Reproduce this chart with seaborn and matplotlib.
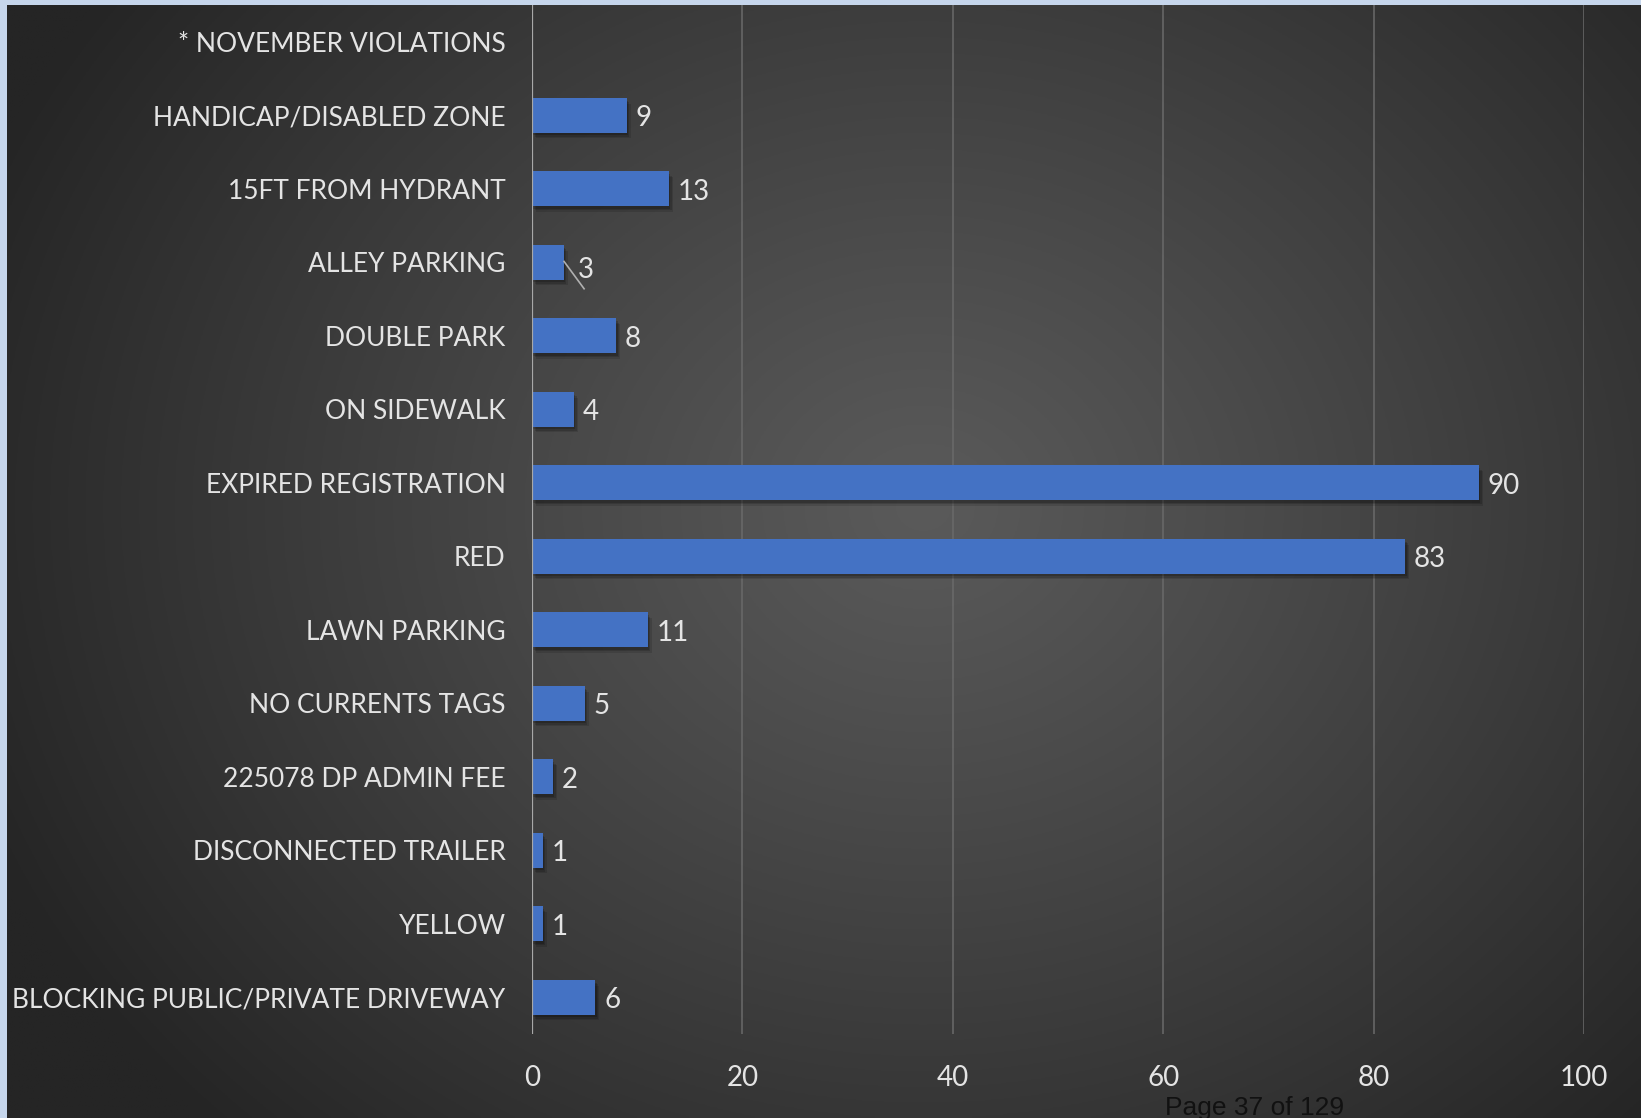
import numpy as np
import pandas as pd
import matplotlib
matplotlib.use("Agg")
import matplotlib.pyplot as plt
import matplotlib.patheffects as pe
import seaborn as sns

# Monthly parking-violation counts
categories = [
    "* NOVEMBER VIOLATIONS",
    "HANDICAP/DISABLED ZONE",
    "15FT FROM HYDRANT",
    "ALLEY PARKING",
    "DOUBLE PARK",
    "ON SIDEWALK",
    "EXPIRED REGISTRATION",
    "RED",
    "LAWN PARKING",
    "NO CURRENTS TAGS",
    "225078 DP ADMIN FEE",
    "DISCONNECTED TRAILER",
    "YELLOW",
    "BLOCKING PUBLIC/PRIVATE DRIVEWAY",
]
# the header row carries no count
counts = [None, 9, 13, 3, 8, 4, 90, 83, 11, 5, 2, 1, 1, 6]
x_ticks = [0, 20, 40, 60, 80, 100]
footer_text = "Page 37 of 129"

sns.set_theme(style="dark")
plt.rcParams["font.family"] = ["Lato", "DejaVu Sans"]

W, H, DPI = 1641, 1118, 100
fig = plt.figure(figsize=(W / DPI, H / DPI), dpi=DPI)
fig.patch.set_facecolor("#c6d6ec")

# dark panel with a soft radial highlight
bg = fig.add_axes([7 / W, 0, 1 - 7 / W, 1 - 5 / H])
bg.set_axis_off()
ny, nx = 400, 600
yy, xx = np.mgrid[0:ny, 0:nx]
cx, cy = 0.56 * nx, 0.45 * ny
r = np.sqrt(((xx - cx) / (0.62 * nx)) ** 2 + ((yy - cy) / (0.78 * ny)) ** 2)
r = np.clip(r, 0, 1)
lo, hi = 0x25 / 255, 0x5a / 255
shade = hi - (hi - lo) * r ** 1.1
bg.imshow(np.dstack([shade, shade, shade]), aspect="auto", extent=[0, 1, 0, 1])
bg.set_xlim(0, 1)
bg.set_ylim(0, 1)

x0, x1 = 532 / W, 1584 / W
y0, y1 = 1 - 1034 / H, 1 - 5 / H
ax = fig.add_axes([x0, y0, x1 - x0, y1 - y0])
ax.patch.set_alpha(0)

df = pd.DataFrame({"category": categories, "count": counts,
                   "row": np.arange(len(categories))}).dropna()
sns.barplot(data=df, y="row", x="count", orient="h", native_scale=True,
            color="#4472C4", saturation=1, width=0.47, linewidth=0,
            ax=ax, err_kws={"linewidth": 0})

# soft drop shadow under each bar
shadow = [pe.SimplePatchShadow(offset=(3, -4), shadow_rgbFace="black", alpha=0.12),
          pe.SimplePatchShadow(offset=(2, -3), shadow_rgbFace="black", alpha=0.15),
          pe.SimplePatchShadow(offset=(1, -2), shadow_rgbFace="black", alpha=0.18),
          pe.Normal()]
for bar in ax.patches:
    bar.set_path_effects(shadow)

ax.set_xlim(0, 100)
ax.set_ylim(len(categories) - 0.5, -0.5)
ax.set_yticks(range(len(categories)))
ax.set_yticklabels(categories)
ax.set_xticks(x_ticks)
ax.set_xticklabels([str(t) for t in x_ticks])
ax.set_xlabel("")
ax.set_ylabel("")
for s in ax.spines.values():
    s.set_visible(False)
ax.grid(False)
for t in x_ticks[1:]:
    ax.axvline(t, color="#6a6a6a", linewidth=1.1, zorder=0)
ax.axvline(0, color="#a8a8a8", linewidth=1.6, zorder=3)

label_color = "#e4e4e4"
ax.tick_params(axis="x", length=0, pad=22, labelsize=20, labelcolor=label_color)
ax.tick_params(axis="y", length=0, pad=19, labelsize=19, labelcolor=label_color)

# value labels at the end of each bar
for i, (cat, v) in enumerate(zip(categories, counts)):
    if v is None:
        continue
    if cat == "ALLEY PARKING":
        # this label sits off the bar with a short leader line
        ax.plot([v, v + 2.0], [i - 0.02, i + 0.37], color="#b0b0b0", lw=1.2,
                solid_capstyle="butt", zorder=4)
        ax.text(v + 1.4, i + 0.1, str(v), color=label_color, fontsize=20,
                va="center", ha="left")
    else:
        ax.text(v + 0.85, i + 0.04, str(v), color=label_color, fontsize=20,
                va="center", ha="left")

fig.text(1255 / W, 1 - 1108 / H, footer_text, color="#111111", fontsize=19,
         ha="center", va="center", family=["Liberation Sans", "DejaVu Sans"])

fig.savefig("out.png", dpi=DPI, facecolor=fig.get_facecolor())
